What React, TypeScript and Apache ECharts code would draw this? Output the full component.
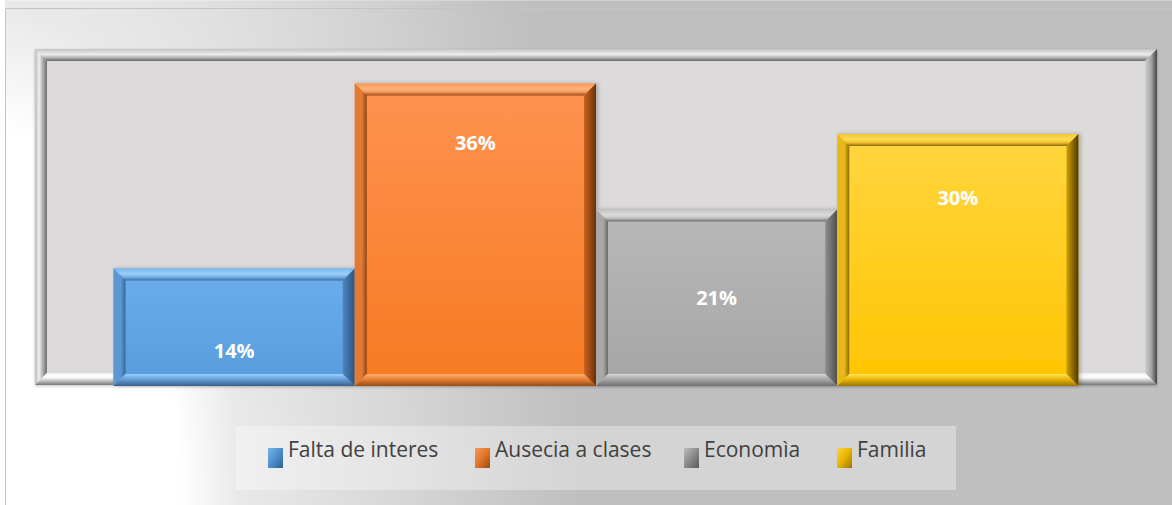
import React, { useEffect, useRef } from "react";
import * as echarts from "echarts";

// ---------- data ----------
const categories = ["Causas"];
const seriesNames = ["Falta de interes", "Ausecia a clases", "Economìa", "Familia"];
const seriesValues = [14, 36, 21, 30];
const axisMin = 0;
const axisMax = 40;

// ---------- layout / style ----------
const CATEGORY_GAP = 0.14;
const BEVEL = 12;
const labelOffsets = [82, 59, 88, 63]; // px below bar top
const legendLefts = [268, 475, 684, 837];
const legendColors = ["#4d8fcc", "#e07528", "#8a8a8a", "#e8b400"];
const legendLight = ["#78b4ea", "#f59a5c", "#bdbdbd", "#ffd640"];
const legendDark = ["#2f5f90", "#9a4a14", "#5a5a5a", "#9a7600"];

type Pal = Record<string, string>;
const palettes: Pal[] = [
  { faceTop: "#6aaeee", faceBottom: "#579cdc", topOuter: "#78b4ea", topMid: "#9acff8", topInner: "#3d6d9c", leftOuter: "#5b98d3", leftInner: "#3a6796", rightInner: "#4e86bf", rightOuter: "#2c5580", botInner: "#9ccff9", botMid: "#6eaae2", botOuter: "#365f8c" },
  { faceTop: "#fe9350", faceBottom: "#f67a22", topOuter: "#f59a5c", topMid: "#ffb27a", topInner: "#93481a", leftOuter: "#e27a36", leftInner: "#8c4514", rightInner: "#cc6420", rightOuter: "#6a3008", botInner: "#ffb072", botMid: "#f28a40", botOuter: "#9a4a14" },
  { faceTop: "#b9b9b9", faceBottom: "#a5a5a5", topOuter: "#c4c4c4", topMid: "#dadada", topInner: "#6c6c6c", leftOuter: "#a8a8a8", leftInner: "#686868", rightInner: "#8e8e8e", rightOuter: "#505050", botInner: "#d6d6d6", botMid: "#b0b0b0", botOuter: "#6e6e6e" },
  { faceTop: "#ffd640", faceBottom: "#ffc400", topOuter: "#f4c433", topMid: "#ffdc55", topInner: "#8a6a08", leftOuter: "#e8b818", leftInner: "#8a6800", rightInner: "#d0a000", rightOuter: "#4a3800", botInner: "#ffe45a", botMid: "#f2c010", botOuter: "#9a7600" },
];

function lg(vertical: boolean, stops: [number, string][]) {
  return new echarts.graphic.LinearGradient(
    0, 0, vertical ? 0 : 1, vertical ? 1 : 0,
    stops.map(([offset, color]) => ({ offset, color }))
  );
}

function bevelPolys(x0: number, y0: number, x1: number, y1: number, b: number) {
  return {
    top: [[x0, y0], [x1, y0], [x1 - b, y0 + b], [x0 + b, y0 + b]],
    left: [[x0, y0], [x0 + b, y0 + b], [x0 + b, y1 - b], [x0, y1]],
    right: [[x1, y0], [x1, y1], [x1 - b, y1 - b], [x1 - b, y0 + b]],
    bottom: [[x0, y1], [x0 + b, y1 - b], [x1 - b, y1 - b], [x1, y1]],
  };
}

const FRAME = { x0: 35, y0: 49, x1: 1157, y1: 385, b: 12 };

function frameGraphics() {
  const { x0, y0, x1, y1, b } = FRAME;
  const p = bevelPolys(x0, y0, x1, y1, b);
  return [
    { type: "rect", z: -5, shape: { x: x0, y: y0, width: x1 - x0, height: y1 - y0 }, style: { fill: "#dcdadb", shadowBlur: 3, shadowOffsetY: 1, shadowColor: "rgba(0,0,0,0.25)" } },
    { type: "polygon", z: -4, shape: { points: p.top }, style: { fill: lg(true, [[0, "#c4c4c4"], [0.45, "#ececec"], [0.7, "#b8b8b8"], [1, "#666666"]]) } },
    { type: "polygon", z: -4, shape: { points: p.left }, style: { fill: lg(false, [[0, "#bdbdbd"], [0.35, "#eeeeee"], [0.7, "#a4a4a4"], [1, "#6e6e6e"]]) } },
    { type: "polygon", z: -4, shape: { points: p.right }, style: { fill: lg(false, [[0, "#cfcfcf"], [0.5, "#a6a6a6"], [1, "#444444"]]) } },
    { type: "polygon", z: -4, shape: { points: p.bottom }, style: { fill: lg(true, [[0, "#f2f2f2"], [0.35, "#ffffff"], [0.7, "#b8b8b8"], [1, "#777777"]]) } },
  ];
}

function renderBar(params: any, api: any) {
  const i = params.seriesIndex;
  const pal = palettes[i];
  const cat = api.value(0);
  const val = api.value(1);
  const base = api.coord([cat, axisMin]);
  const top = api.coord([cat, val]);
  const band = api.size([1, 0])[0];
  const total = band * (1 - CATEGORY_GAP);
  const w = total / seriesNames.length;
  const x0 = base[0] - total / 2 + i * w;
  const x1 = x0 + w;
  const y0 = top[1];
  const y1 = base[1];
  const b = BEVEL;
  const p = bevelPolys(x0, y0, x1, y1, b);
  return {
    type: "group",
    children: [
      { type: "rect", shape: { x: x0, y: y0, width: x1 - x0, height: y1 - y0 }, style: { fill: lg(true, [[0, pal.faceTop], [1, pal.faceBottom]]), shadowBlur: 4, shadowOffsetX: 2, shadowColor: "rgba(0,0,0,0.25)" } },
      { type: "polygon", shape: { points: p.top }, style: { fill: lg(true, [[0, pal.topOuter], [0.45, pal.topMid], [0.7, pal.topOuter], [1, pal.topInner]]) } },
      { type: "polygon", shape: { points: p.left }, style: { fill: lg(false, [[0, pal.leftOuter], [0.6, pal.leftOuter], [1, pal.leftInner]]) } },
      { type: "polygon", shape: { points: p.right }, style: { fill: lg(false, [[0, pal.rightInner], [1, pal.rightOuter]]) } },
      { type: "polygon", shape: { points: p.bottom }, style: { fill: lg(true, [[0, pal.botInner], [0.35, pal.botMid], [1, pal.botOuter]]) } },
      {
        type: "text",
        style: {
          text: `${val}%`,
          x: (x0 + x1) / 2,
          y: y0 + labelOffsets[i],
          align: "center",
          verticalAlign: "middle",
          fill: "#ffffff",
          fontSize: 20,
          fontWeight: "bold",
          fontFamily: "Open Sans",
        },
      },
    ],
  };
}

export default function App() {
  const ref = useRef<HTMLDivElement>(null);
  useEffect(() => {
    if (!ref.current) return;
    const chart = echarts.init(ref.current, null, { renderer: "svg" });
    const option: any = {
      animation: false,
      backgroundColor: "#ffffff",
      grid: { left: 35, right: 15, top: 50, bottom: 119, containLabel: false },
      xAxis: {
        type: "category",
        data: categories,
        show: false,
        boundaryGap: true,
      },
      yAxis: {
        type: "value",
        min: axisMin,
        max: axisMax,
        show: false,
        splitLine: { show: false },
      },
      legend: seriesNames.map((name, i) => ({
        data: [
          {
            name,
            icon: "rect",
            itemStyle: {
              color: new echarts.graphic.LinearGradient(0, 0, 1, 1, [
                { offset: 0, color: legendLight[i] },
                { offset: 0.5, color: legendColors[i] },
                { offset: 1, color: legendDark[i] },
              ]),
            },
          },
        ],
        left: legendLefts[i],
        top: 438,
        padding: 0,
        itemWidth: 15,
        itemHeight: 20,
        itemGap: 0,
        selectedMode: false,
        formatter: "{t|{name}}",
        textStyle: {
          color: "#404040",
          fontSize: 21,
          fontFamily: "Open Sans",
          rich: {
            t: {
              color: "#404040",
              fontSize: 21,
              fontFamily: "Open Sans",
              padding: [0, 0, 19, 0],
            },
          },
        },
      })),
      graphic: [
        {
          type: "group",
          x: 0,
          y: 505,
          scaleY: 2.06,
          z: -20,
          children: [
            {
              type: "rect",
              z: -20,
              shape: { x: 5, y: -245, width: 1200, height: 250 },
              style: {
                fill: new echarts.graphic.RadialGradient(0, 0, 600, [
                  { offset: 0, color: "#ffffff" },
                  { offset: 0.3, color: "#ffffff" },
                  { offset: 0.4, color: "#e9e9e9" },
                  { offset: 0.65, color: "#d8d8d8" },
                  { offset: 0.95, color: "#c0c0c0" },
                  { offset: 1, color: "#bfbfbf" },
                ], true),
              },
            },
          ],
        },
        {
          type: "rect",
          z: -19,
          shape: { x: 5.5, y: 8.5, width: 1200, height: 600 },
          style: { fill: "none", stroke: "#c4c4c4", lineWidth: 1 },
        },
        ...frameGraphics(),
        {
          type: "rect",
          z: -3,
          shape: { x: 236, y: 426, width: 720, height: 64 },
          style: { fill: "rgba(255,255,255,0.33)" },
        },
      ],
      series: seriesNames.map((name, i) => ({
        name,
        type: "custom",
        renderItem: renderBar,
        itemStyle: { color: legendColors[i] },
        encode: { x: 0, y: 1 },
        data: [[0, seriesValues[i]]],
        z: 5,
      })),
    };
    chart.setOption(option);
    return () => chart.dispose();
  }, []);
  return (
    <div
      ref={ref}
      style={{ position: "absolute", left: 0, top: 0, width: 1172, height: 505 }}
    />
  );
}
